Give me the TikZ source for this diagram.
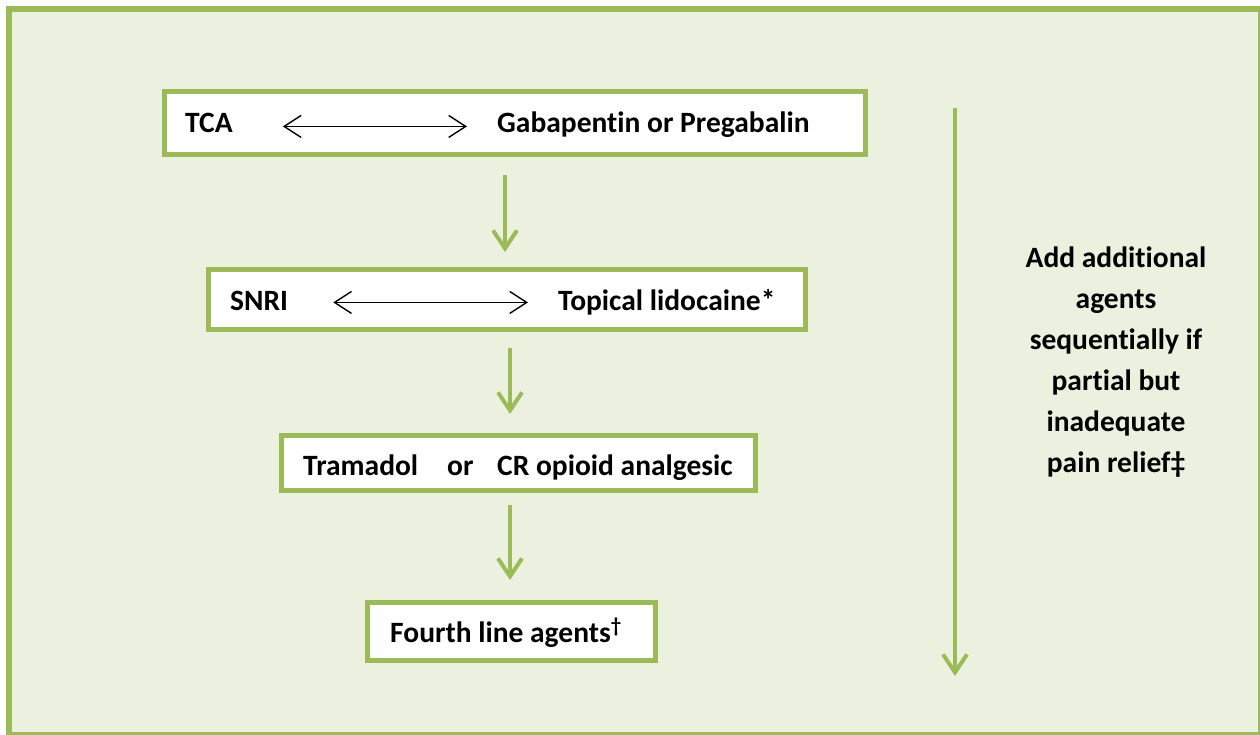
\documentclass[tikz,border=0pt]{standalone}
\usepackage{fontspec}
\setmainfont{Carlito}[Ligatures=NoCommon]
\usetikzlibrary{arrows.meta}
\definecolor{leaf}{HTML}{9BBB59}
\definecolor{pale}{HTML}{EBF1DE}
\tikzset{
  box/.style={draw=leaf, line width=5pt, fill=white, outer sep=0pt, inner sep=0pt},
  drug/.style={font=\bfseries\fontsize{29.5}{35}\selectfont, inner sep=0pt, anchor=base west},
  flow/.style={draw=leaf, line width=4pt, -{Straight Barb[length=18pt,width=24pt]}},
  either/.style={black, line width=1.4pt, {Straight Barb[length=17pt,width=22pt]}-{Straight Barb[length=17pt,width=22pt]}}
}
\begin{document}
\begin{tikzpicture}[x=1pt,y=-1pt]
	\useasboundingbox (0,0) rectangle (1260,734);
	\draw[draw=leaf, fill=pale, line width=6pt] (9,9) rectangle (1261,735);
	
	% the four lines of treatment
	\node[box, minimum width=701pt, minimum height=63pt] (b1) at (514.5,122.5) {};
	\node[box, minimum width=597pt, minimum height=60pt] (b2) at (506.5,299) {};
	\node[box, minimum width=474pt, minimum height=55pt] (b3) at (518,462.5) {};
	\node[box, minimum width=288pt, minimum height=58pt] (b4) at (511,631) {};
	
	\node[drug] (tca) at (185,132) {TCA};
	\node[drug] (gaba) at (497,132) {Gabapentin or Pregabalin};
	\draw[either, shorten <=50pt, shorten >=30pt] ([yshift=-4pt]tca.east) -- ([yshift=-4pt]tca.east -| gaba.west);
	
	\node[drug] (snri) at (230,310) {SNRI};
	\node[drug] (lido) at (558,310) {Topical lidocaine*};
	\draw[either, shorten <=45pt, shorten >=30pt] ([yshift=-2pt]snri.east) -- ([yshift=-2pt]snri.east -| lido.west);
	
	\node[drug] (tram) at (303,475) {Tramadol};
	\node[drug] (or) at (447,475) {or};
	\node[drug] (opio) at (497,475) {CR opioid analgesic};
	
	\node[drug] (fourth) at (390,642) {Fourth line agents\textsuperscript{\dag}};
	
	\draw[flow, shorten <=21pt, shorten >=17pt] (b1.south -| 505,0) -- (b2.north -| 505,0);
	\draw[flow, shorten <=19pt, shorten >=21pt] (b2.south -| 510,0) -- (b3.north -| 510,0);
	\draw[flow, shorten <=15pt, shorten >=22pt] (b3.south -| 510,0) -- (b4.north -| 510,0);
	
	% add-on note on the right
	\coordinate (addtop) at (955,108);
	\coordinate (addend) at (955,676);
	\draw[flow] (addtop) -- (addend);
	\node[font=\bfseries\fontsize{29.5}{41}\selectfont, align=center, inner sep=0pt] (addon) at (1116,362)
		{Add additional\\agents\\sequentially if\\partial but\\inadequate\\pain relief\ddag};
\end{tikzpicture}
\end{document}
